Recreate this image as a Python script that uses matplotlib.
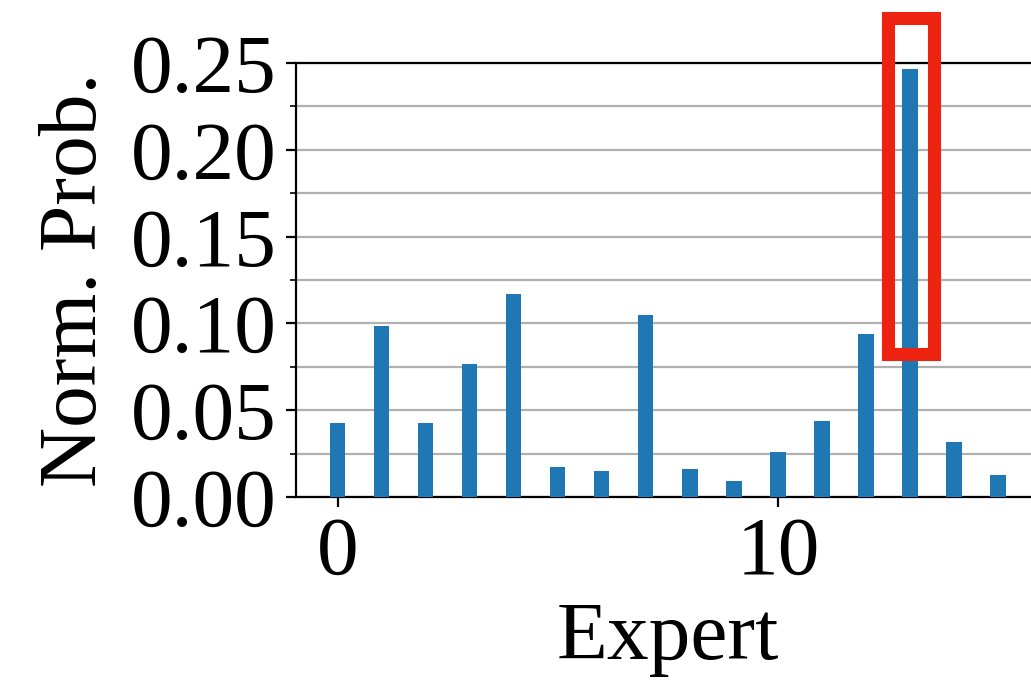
import matplotlib
matplotlib.use("Agg")
import matplotlib.pyplot as plt
from matplotlib.patches import Rectangle
from matplotlib.ticker import MultipleLocator

plt.rcParams['font.family'] = ['Liberation Serif', 'DejaVu Serif']

# Normalized routing probability per expert
experts = list(range(16))
norm_prob = [0.0429, 0.0985, 0.0429, 0.0766, 0.1169, 0.0175, 0.0152, 0.1048,
             0.0163, 0.0094, 0.0262, 0.0435, 0.0939, 0.2465, 0.0319, 0.0129]
highlight_expert = 13

fig = plt.figure(figsize=(10.31, 6.84), dpi=100)
ax = fig.add_axes([0.2871, 0.2734, 0.7212, 0.6345])

ax.bar(experts, norm_prob, width=0.35, color='#1f77b4', zorder=3)

ax.set_ylim(0, 0.25)
ax.yaxis.set_major_locator(MultipleLocator(0.05))
ax.yaxis.set_minor_locator(MultipleLocator(0.025))
ax.xaxis.set_major_locator(MultipleLocator(10))
ax.grid(axis='y', which='both', color='#b0b0b0', linewidth=1.6, zorder=0)
ax.set_axisbelow(True)

for s in ax.spines.values():
    s.set_linewidth(1.6)
ax.spines['right'].set_visible(False)

ax.tick_params(axis='both', which='major', labelsize=60, length=7, width=1.6, pad=7)
ax.tick_params(axis='y', which='minor', length=4, width=1.2)
ax.yaxis.set_major_formatter(matplotlib.ticker.FormatStrFormatter('%.2f'))

ax.set_xlabel('Expert', fontsize=60, labelpad=7)
ax.set_ylabel('Norm. Prob.', fontsize=60, labelpad=12)

# Box around the dominant expert
ax.add_patch(Rectangle((highlight_expert - 0.5, 0.0825), 1.05, 0.1935,
                       fill=False, edgecolor='#ee2211', linewidth=9.4,
                       clip_on=False, zorder=5))

fig.savefig('out.png', dpi=100)
